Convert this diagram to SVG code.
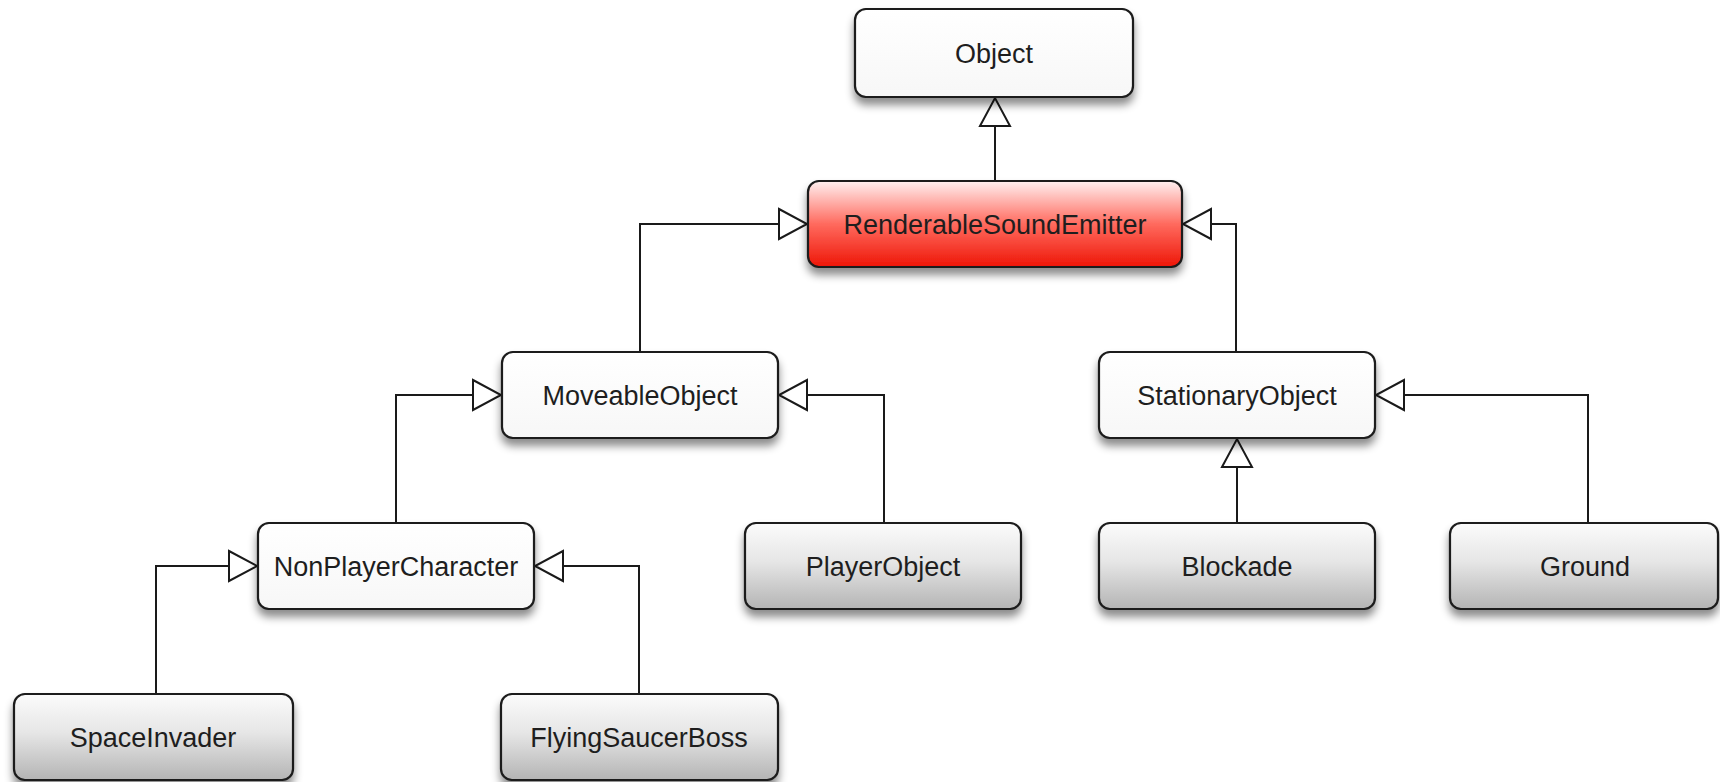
<svg xmlns="http://www.w3.org/2000/svg" width="1720" height="782" viewBox="0 0 1720 782">
  <defs>
    <linearGradient id="gWhite" x1="0" y1="0" x2="0" y2="1">
      <stop offset="0" stop-color="#ffffff"/>
      <stop offset="1" stop-color="#f7f7f7"/>
    </linearGradient>
    <linearGradient id="gGray" x1="0" y1="0" x2="0" y2="1">
      <stop offset="0" stop-color="#fbfbfb"/>
      <stop offset="0.45" stop-color="#e6e6e6"/>
      <stop offset="1" stop-color="#b4b4b4"/>
    </linearGradient>
    <linearGradient id="gRed" x1="0" y1="0" x2="0" y2="1">
      <stop offset="0" stop-color="#fff0f0"/>
      <stop offset="0.5" stop-color="#ff6a5e"/>
      <stop offset="1" stop-color="#ee1608"/>
    </linearGradient>
    <filter id="shadow" x="-10%" y="-20%" width="120%" height="160%">
      <feDropShadow dx="0" dy="7" stdDeviation="4" flood-color="#000" flood-opacity="0.45"/>
    </filter>
    <marker id="inherit" markerUnits="userSpaceOnUse" markerWidth="34" markerHeight="36" refX="30" refY="17" orient="auto">
      <path d="M2,2 L30,17 L2,32 Z" fill="#fff" stroke="#1a1a1a" stroke-width="2"/>
    </marker>
  </defs>
  <style>
    .box { stroke: #1a1a1a; stroke-width: 2.2; filter: url(#shadow); }
    .plain { fill: url(#gWhite); }
    .leaf { fill: url(#gGray); }
    .hot { fill: url(#gRed); }
    .label { font-family: "Liberation Sans", Arial, Helvetica, sans-serif; font-size: 27px; fill: #1e1e1e; text-anchor: middle; }
    .edge { fill: none; stroke: #1a1a1a; stroke-width: 2; marker-end: url(#inherit); }
  </style>

  <!-- generalization links -->
  <g id="connectors">
    <path class="edge" d="M995,181 L995,98"/>
    <path class="edge" d="M640,352 L640,224 L807,224"/>
    <path class="edge" d="M1236,352 L1236,224 L1183,224"/>
    <path class="edge" d="M396,523 L396,395 L501,395"/>
    <path class="edge" d="M884,523 L884,395 L779,395"/>
    <path class="edge" d="M1237,523 L1237,439"/>
    <path class="edge" d="M1588,523 L1588,395 L1376,395"/>
    <path class="edge" d="M156,694 L156,566 L257,566"/>
    <path class="edge" d="M639,694 L639,566 L535,566"/>
  </g>

  <g id="Object">
    <rect class="box plain" x="855" y="9" width="278" height="88" rx="11"/>
    <text class="label" x="994" y="63">Object</text>
  </g>
  <g id="RenderableSoundEmitter">
    <rect class="box hot" x="808" y="181" width="374" height="86" rx="11"/>
    <text class="label" x="995" y="234">RenderableSoundEmitter</text>
  </g>
  <g id="MoveableObject">
    <rect class="box plain" x="502" y="352" width="276" height="86" rx="11"/>
    <text class="label" x="640" y="405">MoveableObject</text>
  </g>
  <g id="StationaryObject">
    <rect class="box plain" x="1099" y="352" width="276" height="86" rx="11"/>
    <text class="label" x="1237" y="405">StationaryObject</text>
  </g>
  <g id="NonPlayerCharacter">
    <rect class="box plain" x="258" y="523" width="276" height="86" rx="11"/>
    <text class="label" x="396" y="576">NonPlayerCharacter</text>
  </g>
  <g id="PlayerObject">
    <rect class="box leaf" x="745" y="523" width="276" height="86" rx="11"/>
    <text class="label" x="883" y="576">PlayerObject</text>
  </g>
  <g id="Blockade">
    <rect class="box leaf" x="1099" y="523" width="276" height="86" rx="11"/>
    <text class="label" x="1237" y="576">Blockade</text>
  </g>
  <g id="Ground">
    <rect class="box leaf" x="1450" y="523" width="268" height="86" rx="11"/>
    <text class="label" x="1585" y="576">Ground</text>
  </g>
  <g id="SpaceInvader">
    <rect class="box leaf" x="14" y="694" width="279" height="86" rx="11"/>
    <text class="label" x="153" y="747">SpaceInvader</text>
  </g>
  <g id="FlyingSaucerBoss">
    <rect class="box leaf" x="501" y="694" width="277" height="86" rx="11"/>
    <text class="label" x="639" y="747">FlyingSaucerBoss</text>
  </g>
</svg>
